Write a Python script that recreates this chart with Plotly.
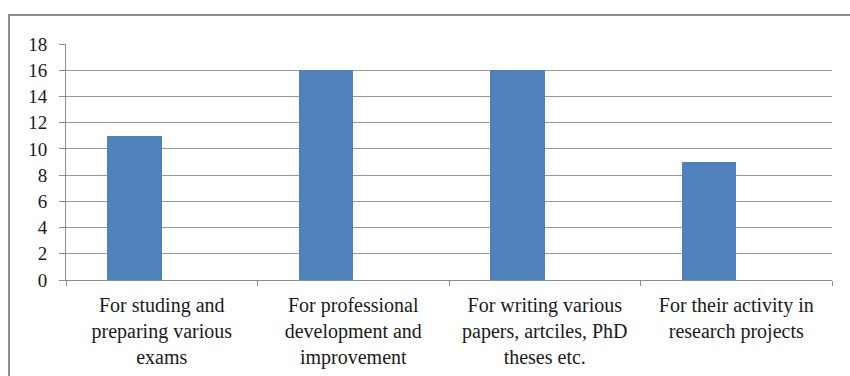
import plotly.graph_objects as go

# Survey: purposes for using the library / resources
categories = [
    "For studing and<br>preparing various<br>exams",
    "For professional<br>development and<br>improvement",
    "For writing various<br>papers, artciles, PhD<br>theses etc.",
    "For their activity in<br>research projects",
]
values = [11, 16, 16, 9]
y_ticks = [0, 2, 4, 6, 8, 10, 12, 14, 16, 18]

BAR_COLOR = "#4F81BD"
GRID_COLOR = "#9a9a9a"
AXIS_COLOR = "#8c8c8c"
FONT = "Times New Roman, Liberation Serif, Tinos, DejaVu Serif, serif"
TEXT_COLOR = "#1a1a1a"

# plot area in pixels (850 x 376 page)
W, H = 850, 376
L, R, T, B = 66, 832, 44, 280

bar_w = 1 / 3.5  # single series drawn at the left half of each category slot

fig = go.Figure(
    go.Bar(
        x=categories,
        y=values,
        width=bar_w,
        offset=-bar_w,
        marker=dict(color=BAR_COLOR, line=dict(width=0)),
        hoverinfo="x+y",
    )
)

def px_x(p):
    return (p - L) / (R - L)

def px_y(p):
    return (B - p) / (B - T)

fig.update_layout(
    width=W,
    height=H,
    margin=dict(l=L, r=W - R, t=T, b=H - B, autoexpand=False),
    paper_bgcolor="white",
    plot_bgcolor="white",
    showlegend=False,
    font=dict(family=FONT, size=19, color=TEXT_COLOR),
    bargap=0,
    shapes=[
        dict(
            type="rect",
            xref="paper",
            yref="paper",
            x0=px_x(9),
            x1=px_x(870),
            y0=px_y(400),
            y1=px_y(15),
            line=dict(color=AXIS_COLOR, width=2),
            fillcolor="rgba(0,0,0,0)",
            layer="below",
        )
    ],
)

fig.update_xaxes(
    type="category",
    tickson="boundaries",
    ticks="outside",
    ticklen=5,
    tickcolor=AXIS_COLOR,
    showgrid=False,
    showline=True,
    linecolor=AXIS_COLOR,
    linewidth=1,
    tickfont=dict(family=FONT, size=20, color=TEXT_COLOR),
    ticklabelstandoff=7,
    range=[-0.5, 3.5],
    fixedrange=True,
)

fig.update_yaxes(
    range=[0, 18],
    tickvals=y_ticks,
    ticktext=[str(v) for v in y_ticks],
    ticks="outside",
    ticklen=6,
    tickcolor=AXIS_COLOR,
    showgrid=True,
    gridcolor=GRID_COLOR,
    gridwidth=1,
    showline=True,
    linecolor=AXIS_COLOR,
    linewidth=1,
    zeroline=False,
    tickfont=dict(family=FONT, size=19, color=TEXT_COLOR),
    ticklabelstandoff=8,
    fixedrange=True,
)

fig.write_html("out.html")
